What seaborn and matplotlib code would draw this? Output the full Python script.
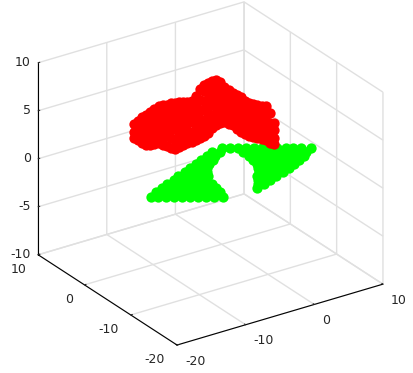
import matplotlib
matplotlib.use("Agg")
import matplotlib.pyplot as plt
import seaborn as sns

# green sheet (z stays at 0)
green_x = [0.1, 0.9, 1.7, 2.5, 3.3, 4.0, 4.8, 5.6, 6.4, 7.2, 8.0, 9.0,
           -1.6, -0.8, 1.5, 2.3, 3.1, 3.9, 4.7, 5.5, 6.3, 7.1, 7.9,
           -2.7, -1.9, 1.5, 2.3, 3.1, 3.9, 4.7, 5.5, 6.3, 7.1,
           -3.9, -3.3, -2.7, 1.3, 2.1, 2.9, 3.7, 4.5, 5.3, 6.0,
           -5.0, -4.3, -3.7, 1.1, 1.9, 2.7, 3.5, 4.2, 4.8,
           -6.2, -5.4, -4.5, 0.6, 1.4, 2.2, 3.0, 3.7,
           -7.3, -6.5, -5.8, -5.1, 0.1, 0.9, 1.7, 2.5,
           -8.6, -7.8, -7.0, -6.3, -5.6, -0.7, 0.0, 0.6, 1.2,
           -9.6, -8.8, -8.0, -7.3, -6.5, -1.3, -0.6, 0.0,
           -11.0, -10.2, -9.4, -8.6, -7.8, -7.1, -6.5, -1.9, -1.2,
           -12.1, -11.3, -10.5, -9.7, -8.9, -8.1, -7.3, -6.7, -2.6,
           -13.3, -12.5, -11.7, -10.9, -10.1, -9.3, -8.5, -7.7, -6.9,
           -14.6, -13.8, -13.1, -12.3, -11.5, -10.7, -9.9, -9.1, -8.3, -7.4]
green_y = [0.0, -0.5, -1.1, -1.6, -2.1, -2.7, -3.2, -3.7, -4.3, -4.8, -5.3, -6.0,
           -0.2, -0.8, -2.3, -2.8, -3.4, -3.9, -4.4, -5.0, -5.5, -6.0, -6.6,
           -0.8, -1.3, -3.6, -4.1, -4.7, -5.2, -5.7, -6.3, -6.8, -7.3,
           -1.3, -1.7, -2.1, -4.8, -5.3, -5.9, -6.4, -6.9, -7.5, -7.9,
           -1.9, -2.4, -2.8, -6.0, -6.5, -7.0, -7.6, -8.0, -8.4,
           -2.4, -2.9, -3.5, -6.9, -7.5, -8.0, -8.5, -9.0,
           -3.0, -3.5, -4.0, -4.4, -7.9, -8.4, -9.0, -9.5,
           -3.4, -3.9, -4.5, -4.9, -5.4, -8.7, -9.2, -9.6, -10.0,
           -4.0, -4.6, -5.1, -5.6, -6.2, -9.7, -10.1, -10.5,
           -4.5, -5.0, -5.5, -6.1, -6.6, -7.1, -7.5, -10.6, -11.0,
           -5.1, -5.6, -6.1, -6.7, -7.2, -7.7, -8.3, -8.7, -11.4,
           -5.6, -6.1, -6.6, -7.2, -7.7, -8.2, -8.8, -9.3, -9.8,
           -6.3, -6.8, -7.4, -7.9, -8.4, -9.0, -9.5, -10.0, -10.6, -11.2]
green_z = [0.0] * len(green_x)

# red cloud, one column per x value (y stays at 0)
red_x = [-12.8] * 3 + [-12.2] * 4 + [-11.6] * 4 + [-11.0] * 5 + [-10.4] * 5 + [-9.8] * 6 \
    + [-9.2] * 5 + [-8.6] * 6 + [-8.0] * 5 + [-7.4] * 6 + [-6.8] * 6 + [-6.2] * 7 \
    + [-5.6] * 6 + [-5.0] * 7 + [-4.4] * 5 + [-3.8] * 6 + [-3.2] * 6 + [-2.6] * 7 \
    + [-2.0] * 6 + [-1.4] * 7 + [-0.8] * 6 + [-0.2] * 6 + [0.4] * 5 + [1.0] * 5 \
    + [1.6] * 5 + [2.2] * 5 + [2.8] * 5 + [3.4] * 5 + [4.0] * 5 + [4.6] * 5 \
    + [5.2] * 5 + [5.8] * 5 + [6.4] * 5 + [7.0] * 4 + [7.6] * 4
red_z = [5.2, 4.4, 3.8,
         5.4, 4.9, 4.2, 3.4,
         5.7, 4.9, 4.0, 3.0,
         5.8, 5.3, 4.4, 3.5, 2.7,
         6.0, 5.2, 4.3, 3.4, 2.5,
         6.2, 5.7, 4.8, 3.9, 2.9, 2.5,
         6.3, 5.3, 4.4, 3.4, 2.5,
         6.3, 5.8, 4.8, 3.8, 2.9, 2.2,
         6.2, 5.2, 4.1, 3.0, 1.9,
         6.3, 5.7, 4.7, 3.6, 2.6, 1.6,
         6.2, 5.2, 4.3, 3.4, 2.3, 1.4,
         6.1, 5.6, 4.7, 3.8, 2.8, 1.9, 1.4,
         6.0, 5.1, 4.1, 3.2, 2.4, 1.5,
         5.9, 5.5, 4.6, 3.6, 2.8, 2.0, 1.6,
         5.9, 4.8, 3.8, 2.6, 1.6,
         6.3, 5.3, 4.3, 3.2, 2.2, 1.7,
         6.8, 5.7, 4.7, 3.7, 2.8, 1.7,
         7.1, 6.5, 5.5, 4.5, 3.5, 2.4, 1.8,
         7.2, 6.2, 5.2, 4.1, 3.1, 2.0,
         7.3, 6.8, 5.8, 4.8, 3.8, 2.9, 2.4,
         7.3, 6.4, 5.4, 4.5, 3.5, 2.6,
         6.9, 5.9, 4.9, 4.0, 3.1, 2.7,
         6.3, 5.4, 4.4, 3.5, 2.6,
         5.9, 5.0, 4.2, 3.3, 2.3,
         5.4, 4.6, 3.8, 2.9, 2.1,
         5.1, 4.2, 3.3, 2.4, 1.5,
         4.7, 3.7, 2.9, 1.9, 1.1,
         4.2, 3.3, 2.4, 1.6, 0.8,
         3.9, 3.0, 2.1, 1.3, 0.4,
         3.6, 2.8, 1.9, 1.0, 0.2,
         3.4, 2.6, 1.6, 0.8, 0.0,
         3.2, 2.3, 1.4, 0.6, -0.3,
         3.0, 2.1, 1.2, 0.3, -0.5,
         2.2, 1.2, 0.2, -0.9,
         1.0, 0.3, -0.5, -1.2]
red_y = [0.0] * len(red_x)

xy_ticks = [-20, -10, 0, 10]
z_ticks = [-10, -5, 0, 5, 10]

sns.set_style("white")
plt.rcParams["font.family"] = ["DejaVu Sans"]
plt.rcParams["axes.unicode_minus"] = False
colors = sns.color_palette(["#00ff00", "#ff0000"])

fig = plt.figure(figsize=(4.14, 3.73), dpi=100)
ax = fig.add_axes([-1.5 / 414, 8 / 373, 1, 1], projection="3d", computed_zorder=False)
ax.set_proj_type("ortho")
ax.view_init(elev=26, azim=-124)
ax.set_box_aspect((250, 250, 215), zoom=1.07)

ax.scatter(green_x, green_y, green_z, s=55, color=colors[0], linewidths=0, depthshade=False, zorder=2)
ax.scatter(red_x, red_y, red_z, s=55, color=colors[1], linewidths=0, depthshade=False, zorder=3)

ax.set_xlim(-20, 10)
ax.set_ylim(-20, 10)
ax.set_zlim(-10, 10)
ax.set_xticks(xy_ticks)
ax.set_yticks(xy_ticks)
ax.set_zticks(z_ticks)
ax.set_xticklabels([str(t) for t in xy_ticks])
ax.set_yticklabels([str(t) for t in xy_ticks])
ax.set_zticklabels([str(t) for t in z_ticks])

for axis in [ax.xaxis, ax.yaxis, ax.zaxis]:
    axis.set_pane_color((1, 1, 1, 0))
    axis.pane.set_edgecolor("#c8c8c8")
    axis.line.set_color("#000000")
    axis.line.set_linewidth(0.8)
    axis._axinfo["grid"]["color"] = "#e0e0e0"
    axis._axinfo["grid"]["linewidth"] = 1.0
    axis._axinfo["tick"]["inward_factor"] = 0.0
    axis._axinfo["tick"]["outward_factor"] = 0.1
    axis.set_tick_params(labelsize=9, labelcolor="#262626", colors="#262626", pad=0)
ax.zaxis.set_tick_params(pad=-5)

# 3d axes overwrite label positions when drawing, so only the alignment can move them
for axis, ha, va in [(ax.xaxis, "left", "center"), (ax.yaxis, "right", "center"), (ax.zaxis, "right", "center")]:
    for t in axis.get_ticklabels():
        t.set_ha(ha)
        t.set_va(va)

fig.savefig("out.png", dpi=100)
